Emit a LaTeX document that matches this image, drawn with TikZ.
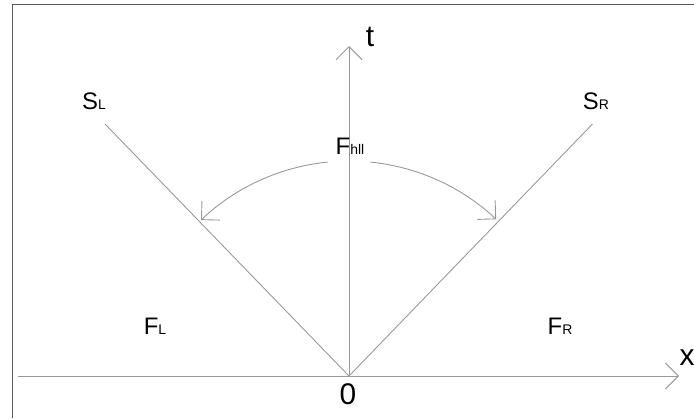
\documentclass[tikz,border=0pt]{standalone}
\usepackage{fontspec}
\setmainfont{Liberation Sans}
\usetikzlibrary{arrows.meta}
\newcommand\smallsub[1]{{\fontsize{14}{14}\selectfont #1}}
\tikzset{
  axisline/.style={draw=black!40, line width=0.9bp},
  barb/.style={-{Straight Barb[length=13bp,width=26bp]}},
  region/.style={inner sep=0pt, font=\fontsize{24}{24}\selectfont},
  axislabel/.style={inner sep=0pt, font=\fontsize{30}{30}\selectfont},
}
\begin{document}
\begin{tikzpicture}[x=1bp,y=1bp]
\useasboundingbox (0,0) rectangle (694,418);
% frame (top and left edges)
\draw[black!65, line width=1.5bp] (12.5,0) -- (12.5,413.5) -- (694,413.5);
% points
\coordinate (O) at (349,42);
\coordinate (xs) at (18,42);
\coordinate (xe) at (679,42);
\coordinate (te) at (349,372);
\coordinate (sl) at (105,294);
\coordinate (sr) at (592.5,294);
% axes
\draw[axisline, barb] (xs) -- (xe);
\draw[axisline, barb] (O) -- (te);
% shock lines
\draw[axisline] (O) -- (sl);
\draw[axisline] (O) -- (sr);
% arcs
\draw[axisline, barb] (O) ++(95.7:215) arc[start angle=95.7, end angle=133.5, radius=215];
\draw[axisline, barb] (O) ++(84.3:215) arc[start angle=84.3, end angle=46.8, radius=215];
% labels
\node[axislabel] (tl) at (370,381) {t};
\node[axislabel] (xl) at (687,60) {x};
\node[axislabel] (zl) at (348,24) {0};
\node[region] (SL) at (94,317) {S\smallsub{L}};
\node[region] (SR) at (596,317) {S\smallsub{R}};
\node[region] (Fh) at (350,272) {F\smallsub{hll}};
\node[region] (FL) at (155,92) {F\smallsub{L}};
\node[region] (FR) at (560,92) {F\smallsub{R}};
\end{tikzpicture}
\end{document}
